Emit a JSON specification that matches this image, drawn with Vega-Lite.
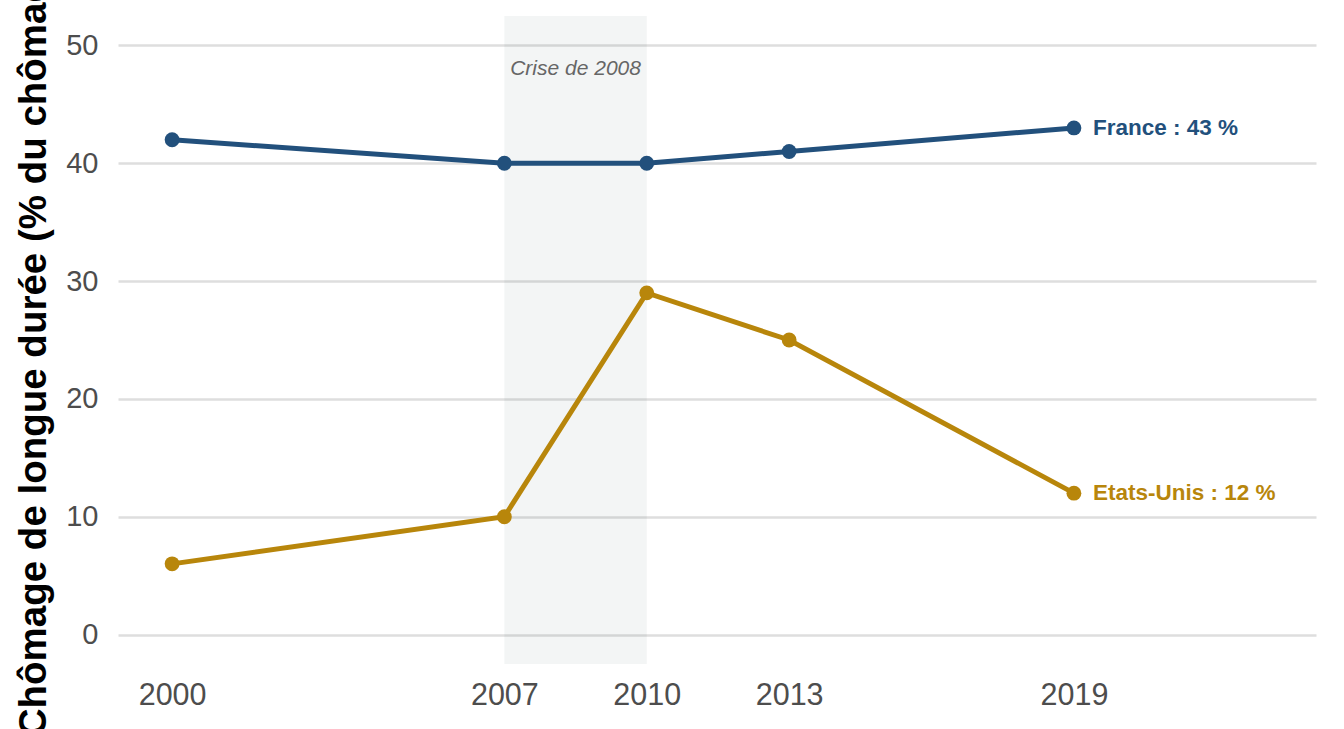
{
  "$schema": "https://vega.github.io/schema/vega-lite/v6.json",
  "width": 1198,
  "height": 648,
  "autosize": {"type": "none"},
  "padding": {"left": 118, "top": 16, "right": 28, "bottom": 65},
  "background": "white",
  "config": {"view": {"stroke": null}, "font": "Liberation Sans"},
  "datasets": {
    "chomage": [
      {"pays": "France", "year": 2000, "value": 42},
      {"pays": "France", "year": 2007, "value": 40},
      {"pays": "France", "year": 2010, "value": 40},
      {"pays": "France", "year": 2013, "value": 41},
      {"pays": "France", "year": 2019, "value": 43, "label": "France : 43 %"},
      {"pays": "Etats-Unis", "year": 2000, "value": 6},
      {"pays": "Etats-Unis", "year": 2007, "value": 10},
      {"pays": "Etats-Unis", "year": 2010, "value": 29},
      {"pays": "Etats-Unis", "year": 2013, "value": 25},
      {"pays": "Etats-Unis", "year": 2019, "value": 12, "label": "Etats-Unis : 12 %"}
    ],
    "crise": [
      {"start": 2007, "end": 2010, "label": "Crise de 2008"}
    ]
  },
  "layer": [
    {
      "data": {"name": "crise"},
      "mark": {"type": "rect", "fill": "#2f4f4f", "opacity": 0.06},
      "encoding": {
        "x": {"field": "start", "type": "quantitative",
              "scale": {"domain": [1998.86, 2024.1], "nice": false, "zero": false},
              "axis": {"values": [2000, 2007, 2010, 2013, 2019], "format": "d", "grid": false, "domain": false, "ticks": false,
                       "labelFontSize": 30.5, "labelColor": "#4d4d4d", "labelPadding": 16, "title": null}},
        "x2": {"field": "end"}
      }
    },
    {
      "data": {"name": "crise"},
      "mark": {"type": "text", "fontStyle": "italic", "fontSize": 21, "color": "#666666", "align": "center", "baseline": "middle"},
      "encoding": {
        "x": {"datum": 2008.5, "type": "quantitative"},
        "y": {"datum": 48, "type": "quantitative"},
        "text": {"field": "label"}
      }
    },
    {
      "data": {"name": "chomage"},
      "mark": {"type": "line", "strokeWidth": 5},
      "encoding": {
        "x": {"field": "year", "type": "quantitative"},
        "y": {
          "field": "value", "type": "quantitative",
          "scale": {"domain": [-2.5, 52.5], "nice": false, "zero": false},
          "axis": {"values": [0, 10, 20, 30, 40, 50], "grid": true, "gridColor": "#dedede", "gridWidth": 2.5,
                   "domain": false, "ticks": false, "labelFontSize": 29, "labelColor": "#4d4d4d", "labelPadding": 20,
                   "title": "Chômage de longue durée (% du chômage)", "titleFontSize": 38.5, "titleFontWeight": "bold",
                   "titleColor": "black", "titleAngle": -90, "titleX": -73, "titleY": 324,
                   "titleAlign": "center", "titleBaseline": "alphabetic"}
        },
        "color": {"field": "pays", "type": "nominal", "legend": null,
                  "scale": {"domain": ["France", "Etats-Unis"], "range": ["#22507c", "#b8860b"]}}
      }
    },
    {
      "data": {"name": "chomage"},
      "mark": {"type": "point", "filled": true, "size": 220, "opacity": 1},
      "encoding": {
        "x": {"field": "year", "type": "quantitative"},
        "y": {"field": "value", "type": "quantitative"},
        "color": {"field": "pays", "type": "nominal", "legend": null}
      }
    },
    {
      "data": {"name": "chomage"},
      "transform": [{"filter": "datum.label != null"}],
      "mark": {"type": "text", "fontWeight": "bold", "fontSize": 22.5, "align": "left", "baseline": "middle", "dx": 19},
      "encoding": {
        "x": {"field": "year", "type": "quantitative"},
        "y": {"field": "value", "type": "quantitative"},
        "text": {"field": "label"},
        "color": {"field": "pays", "type": "nominal", "legend": null}
      }
    }
  ]
}
